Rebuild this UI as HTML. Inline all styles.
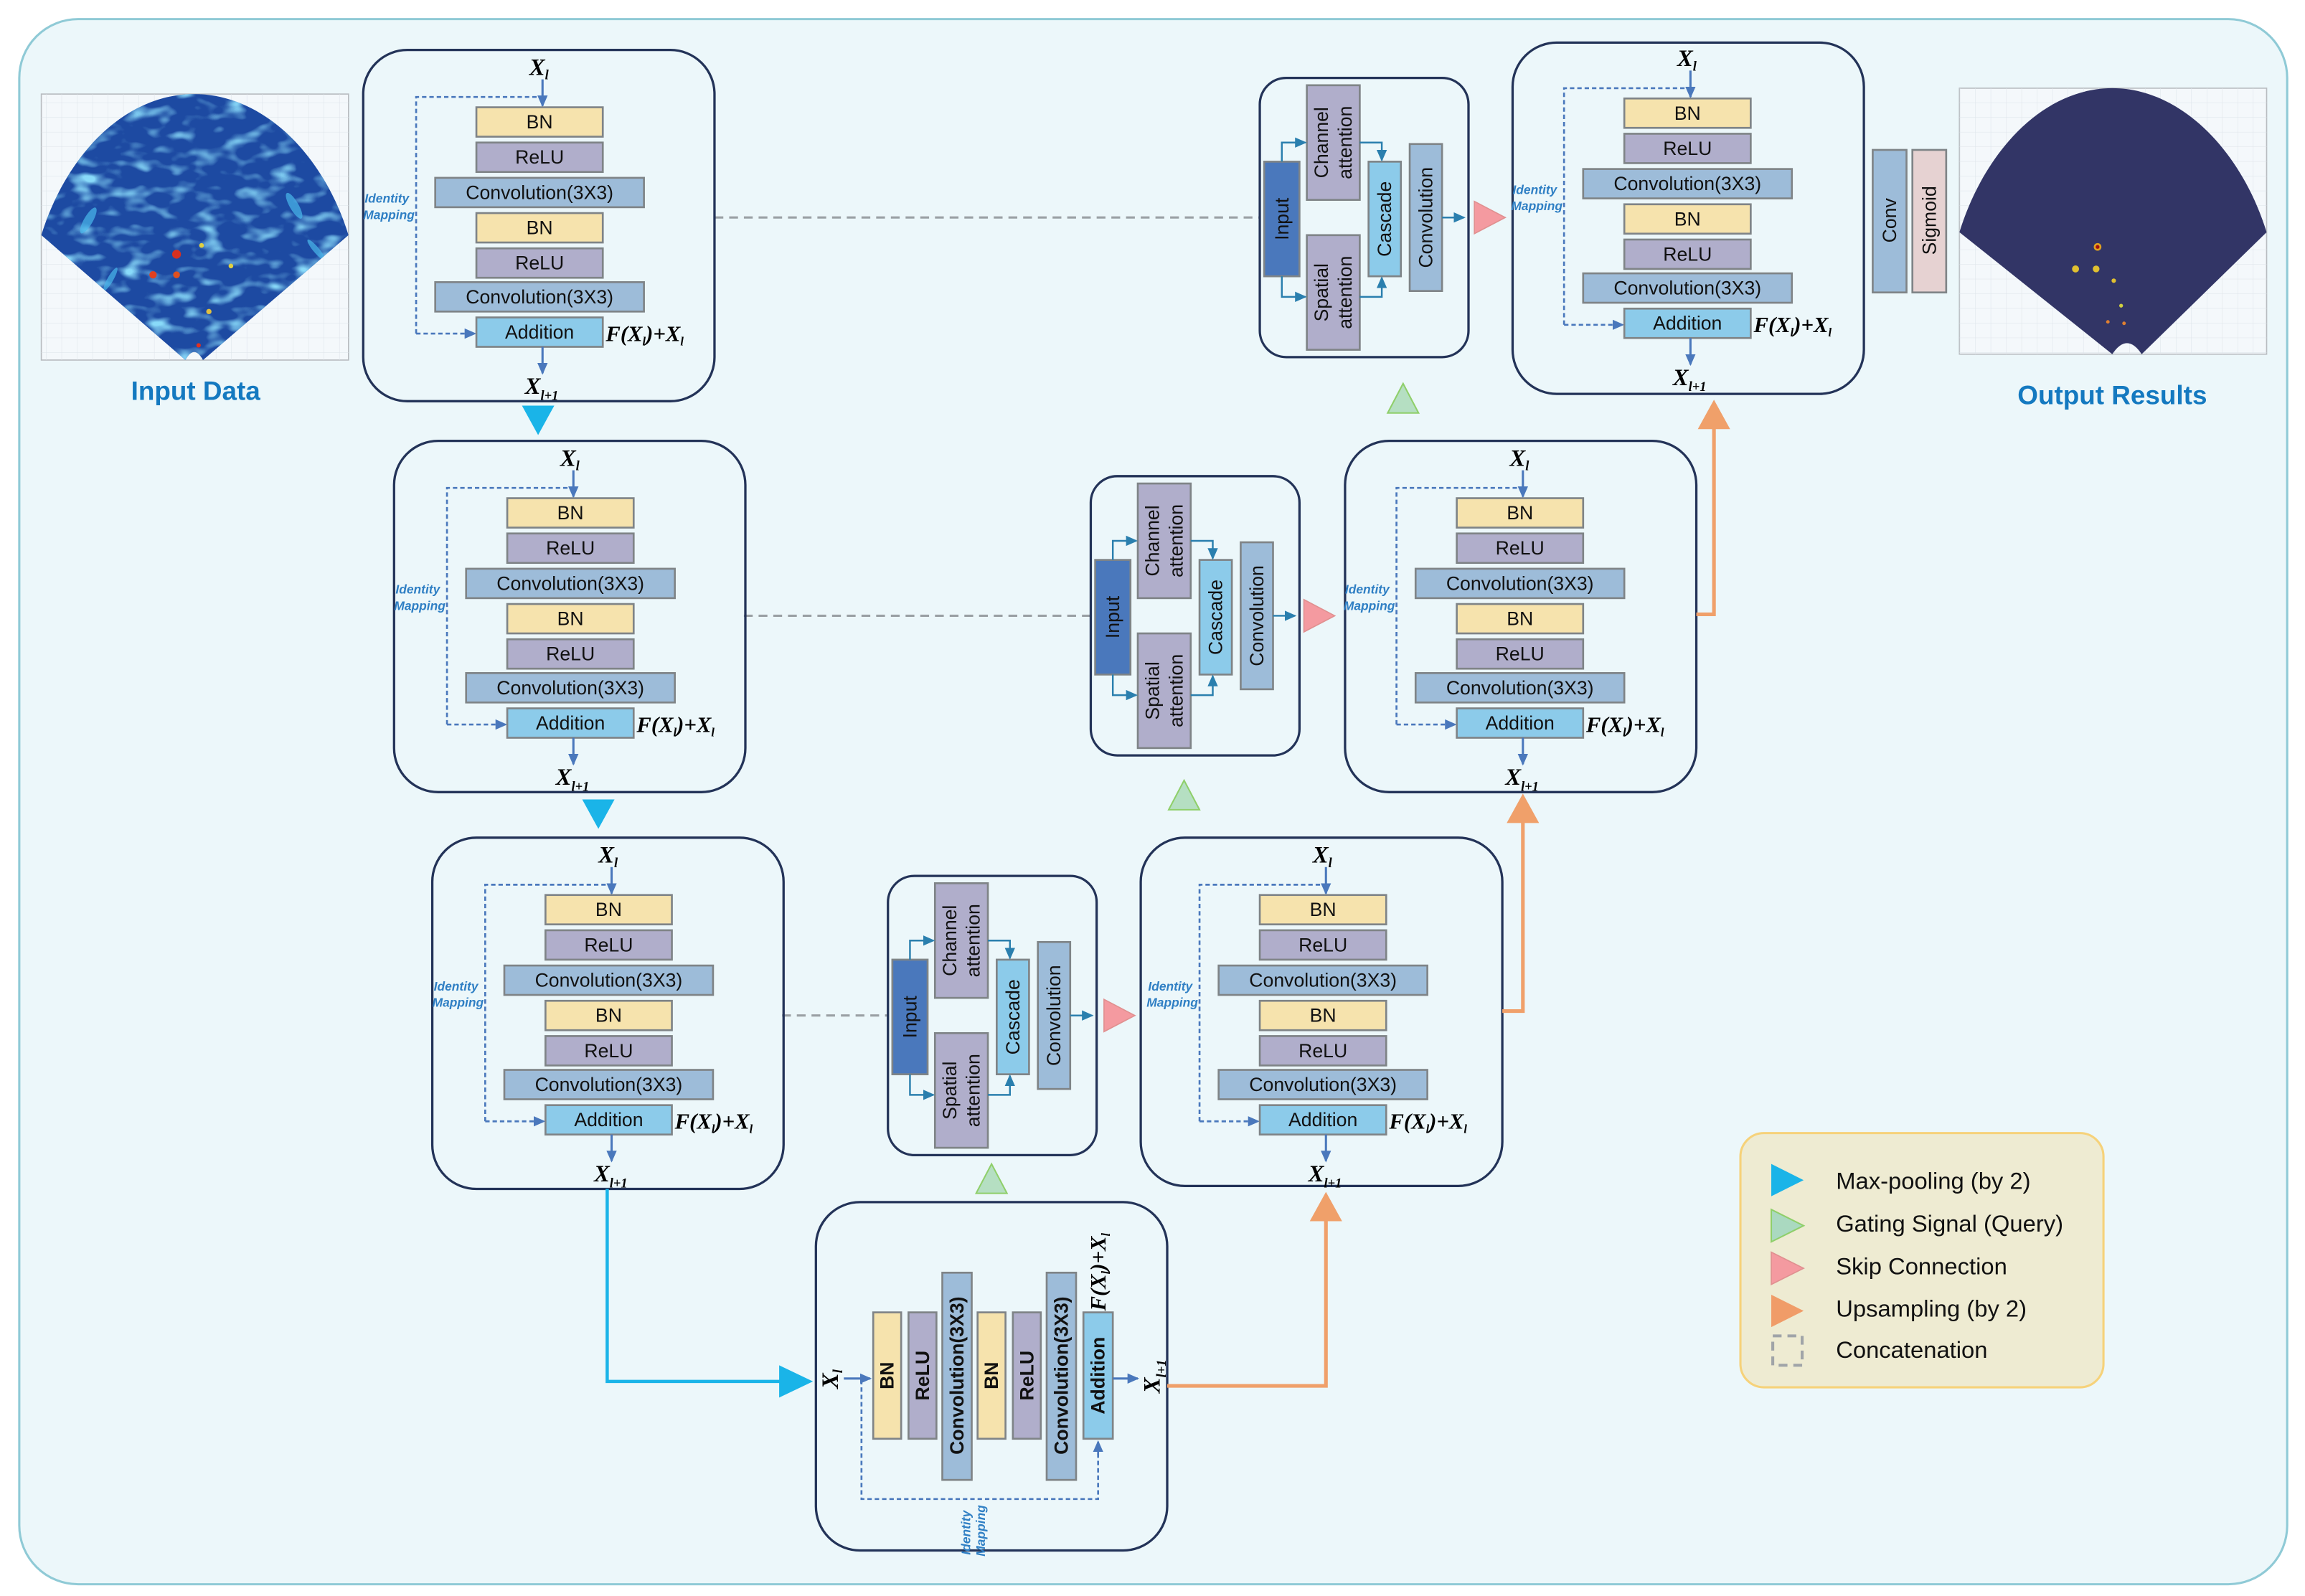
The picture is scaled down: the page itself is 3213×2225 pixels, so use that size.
<!DOCTYPE html>
<html><head><meta charset="utf-8">
<style>
html,body{margin:0;padding:0;background:#fff;}
svg{display:block;}
.l{font-family:"Liberation Sans",sans-serif;font-size:13px;fill:#111;text-anchor:middle;dominant-baseline:central;}
.lb{font-family:"Liberation Sans",sans-serif;font-size:13px;font-weight:bold;fill:#111;text-anchor:middle;dominant-baseline:central;}
.m{font-family:"Liberation Serif",serif;font-style:italic;font-weight:bold;fill:#000;}
.im{font-family:"Liberation Sans",sans-serif;font-style:italic;font-weight:bold;font-size:8.5px;fill:#2f7fc4;}
.bx{stroke:#7f8487;stroke-width:1.3;}
.blk{fill:none;stroke:#233358;stroke-width:1.6;}
</style></head><body>
<svg width="3213" height="2225" viewBox="0 0 1568 1086" xmlns="http://www.w3.org/2000/svg">
<defs>
<marker id="ab" markerUnits="userSpaceOnUse" markerWidth="8" markerHeight="8" refX="7" refY="4" orient="auto"><path d="M0,0.5 L8,4 L0,7.5 Z" fill="#4a78bc"/></marker>
<marker id="at" markerUnits="userSpaceOnUse" markerWidth="8" markerHeight="8" refX="7" refY="4" orient="auto"><path d="M0,0.5 L8,4 L0,7.5 Z" fill="#2a7fae"/></marker>
<clipPath id="fanIn"><path d="M28,160 C45,105 85,64 132,64 S220,105 237,160 L138,245 Q132,234 126,245 Z"/></clipPath>
<pattern id="grid" width="10.5" height="10" patternUnits="userSpaceOnUse"><path d="M10.5,0 V10 H0" fill="none" stroke="#dde3ea" stroke-width="0.5"/></pattern>
<filter id="speck" x="0" y="0" width="1" height="1">
<feTurbulence type="fractalNoise" baseFrequency="0.06 0.11" numOctaves="2" seed="7" result="n"/>
<feColorMatrix in="n" type="matrix" values="0 0 0 0 0.25  0 0 0 0 0.7  0 0 0 0 0.95  3.2 0 0 0 -1.6"/>
</filter>
</defs>
<rect width="1568" height="1086" fill="#ffffff"/>
<rect x="13" y="13" width="1543" height="1065" rx="40" fill="#ecf7fa" stroke="#8fcad6" stroke-width="1.5"/>

<!-- Input image -->
<rect x="28" y="64" width="209" height="181" fill="#f4f8fb" stroke="#b8bcc0" stroke-width="0.8"/>
<rect x="28" y="64" width="209" height="181" fill="url(#grid)"/>
<g clip-path="url(#fanIn)">
<rect x="20" y="50" width="230" height="200" fill="#1d4aa2"/>
<rect x="20" y="50" width="230" height="200" filter="url(#speck)"/>
<g fill="#4ab8ec" opacity="0.7">
<ellipse cx="60" cy="150" rx="3" ry="10" transform="rotate(30 60 150)"/>
<ellipse cx="200" cy="140" rx="3" ry="10" transform="rotate(-30 200 140)"/>
<ellipse cx="75" cy="190" rx="2" ry="9" transform="rotate(30 75 190)"/>
<ellipse cx="215" cy="170" rx="2" ry="9" transform="rotate(-40 215 170)"/>
</g>
<circle cx="120" cy="173" r="3" fill="#d83020"/><circle cx="104" cy="187" r="2.5" fill="#e04020"/><circle cx="120" cy="187" r="2.3" fill="#e05020"/>
<circle cx="142" cy="212" r="1.8" fill="#e0c040"/><circle cx="135" cy="235" r="1.5" fill="#e03020"/>
<circle cx="137" cy="167" r="1.6" fill="#e0d040"/><circle cx="157" cy="181" r="1.6" fill="#e0d040"/>
</g>
<text x="133" y="272" style="font-family:'Liberation Sans',sans-serif;font-weight:bold;font-size:18px;fill:#1479c0;text-anchor:middle;">Input Data</text>

<!-- Output image -->
<rect x="1333" y="60" width="209" height="181" fill="#f4f8fb" stroke="#b8bcc0" stroke-width="0.8"/>
<rect x="1333" y="60" width="209" height="181" fill="url(#grid)"/>
<path d="M1333,158 C1350,103 1390,60 1437,60 S1525,103 1542,158 L1457,241 Q1447,226 1437,241 Z" fill="#323566"/>
<circle cx="1427" cy="168" r="2.6" fill="#e0a020"/><circle cx="1427" cy="168" r="1.3" fill="#a01010"/>
<circle cx="1412" cy="183" r="2.4" fill="#e0c030"/><circle cx="1426" cy="183" r="2.3" fill="#e0c030"/>
<circle cx="1438" cy="191" r="1.5" fill="#e0c030"/><circle cx="1443" cy="208" r="1.3" fill="#d0d040"/>
<circle cx="1434" cy="219" r="1.2" fill="#e08030"/><circle cx="1445" cy="220" r="1.2" fill="#e08030"/>
<text x="1437" y="275" style="font-family:'Liberation Sans',sans-serif;font-weight:bold;font-size:18px;fill:#1479c0;text-anchor:middle;">Output Results</text>

<!-- Conv / Sigmoid -->
<rect class="bx" x="1274" y="102" width="23" height="97" fill="#9dbcd9"/>
<text class="l" transform="rotate(-90 1285.5 150)" x="1285.5" y="150">Conv</text>
<rect class="bx" x="1301" y="102" width="23" height="97" fill="#e6d2d2"/>
<text class="l" transform="rotate(-90 1312.5 150)" x="1312.5" y="150">Sigmoid</text>

<!-- dashed skip lines -->
<g stroke="#9aa0a4" stroke-width="1.5" stroke-dasharray="6,4" fill="none">
<line x1="486" y1="148" x2="857" y2="148"/>
<line x1="506" y1="419" x2="742" y2="419"/>
<line x1="532" y1="691" x2="604" y2="691"/>
</g>

<!-- Residual blocks -->
<g transform="translate(247,34)">
<rect class="blk" x="0" y="0" width="239" height="239" rx="30"/>
<text class="m" x="113" y="17" font-size="16">X<tspan font-size="9" dy="3">l</tspan></text>
<path d="M36,193 V32 H122" fill="none" stroke="#4a78bc" stroke-width="1.3" stroke-dasharray="3,2"/>
<path d="M36,193 H76" fill="none" stroke="#4a78bc" stroke-width="1.3" stroke-dasharray="3,2" marker-end="url(#ab)"/>
<line x1="122" y1="20" x2="122" y2="38" stroke="#4a78bc" stroke-width="1.5" marker-end="url(#ab)"/>
<rect class="bx" x="77" y="39" width="86" height="20" fill="#f6e3ad"/><text class="l" x="120" y="49">BN</text>
<rect class="bx" x="77" y="63" width="86" height="20" fill="#b0aecb"/><text class="l" x="120" y="73">ReLU</text>
<rect class="bx" x="49" y="87" width="142" height="20" fill="#9dbcd9"/><text class="l" x="120" y="97">Convolution(3X3)</text>
<rect class="bx" x="77" y="111" width="86" height="20" fill="#f6e3ad"/><text class="l" x="120" y="121">BN</text>
<rect class="bx" x="77" y="135" width="86" height="20" fill="#b0aecb"/><text class="l" x="120" y="145">ReLU</text>
<rect class="bx" x="49" y="158" width="142" height="20" fill="#9dbcd9"/><text class="l" x="120" y="168">Convolution(3X3)</text>
<rect class="bx" x="77" y="182" width="86" height="20" fill="#8ccbea"/><text class="l" x="120" y="192">Addition</text>
<text class="m" x="165" y="198" font-size="15">F(X<tspan font-size="8" dy="3">l</tspan><tspan dy="-3">)+X</tspan><tspan font-size="8" dy="3">l</tspan></text>
<line x1="122" y1="202" x2="122" y2="220" stroke="#4a78bc" stroke-width="1.5" marker-end="url(#ab)"/>
<text class="m" x="110" y="234" font-size="16">X<tspan font-size="9" dy="4">l+1</tspan></text>
<text class="im" x="1" y="104">Identity</text><text class="im" x="0" y="115">Mapping</text>
</g>
<g transform="translate(268,300)">
<rect class="blk" x="0" y="0" width="239" height="239" rx="30"/>
<text class="m" x="113" y="17" font-size="16">X<tspan font-size="9" dy="3">l</tspan></text>
<path d="M36,193 V32 H122" fill="none" stroke="#4a78bc" stroke-width="1.3" stroke-dasharray="3,2"/>
<path d="M36,193 H76" fill="none" stroke="#4a78bc" stroke-width="1.3" stroke-dasharray="3,2" marker-end="url(#ab)"/>
<line x1="122" y1="20" x2="122" y2="38" stroke="#4a78bc" stroke-width="1.5" marker-end="url(#ab)"/>
<rect class="bx" x="77" y="39" width="86" height="20" fill="#f6e3ad"/><text class="l" x="120" y="49">BN</text>
<rect class="bx" x="77" y="63" width="86" height="20" fill="#b0aecb"/><text class="l" x="120" y="73">ReLU</text>
<rect class="bx" x="49" y="87" width="142" height="20" fill="#9dbcd9"/><text class="l" x="120" y="97">Convolution(3X3)</text>
<rect class="bx" x="77" y="111" width="86" height="20" fill="#f6e3ad"/><text class="l" x="120" y="121">BN</text>
<rect class="bx" x="77" y="135" width="86" height="20" fill="#b0aecb"/><text class="l" x="120" y="145">ReLU</text>
<rect class="bx" x="49" y="158" width="142" height="20" fill="#9dbcd9"/><text class="l" x="120" y="168">Convolution(3X3)</text>
<rect class="bx" x="77" y="182" width="86" height="20" fill="#8ccbea"/><text class="l" x="120" y="192">Addition</text>
<text class="m" x="165" y="198" font-size="15">F(X<tspan font-size="8" dy="3">l</tspan><tspan dy="-3">)+X</tspan><tspan font-size="8" dy="3">l</tspan></text>
<line x1="122" y1="202" x2="122" y2="220" stroke="#4a78bc" stroke-width="1.5" marker-end="url(#ab)"/>
<text class="m" x="110" y="234" font-size="16">X<tspan font-size="9" dy="4">l+1</tspan></text>
<text class="im" x="1" y="104">Identity</text><text class="im" x="0" y="115">Mapping</text>
</g>
<g transform="translate(294,570)">
<rect class="blk" x="0" y="0" width="239" height="239" rx="30"/>
<text class="m" x="113" y="17" font-size="16">X<tspan font-size="9" dy="3">l</tspan></text>
<path d="M36,193 V32 H122" fill="none" stroke="#4a78bc" stroke-width="1.3" stroke-dasharray="3,2"/>
<path d="M36,193 H76" fill="none" stroke="#4a78bc" stroke-width="1.3" stroke-dasharray="3,2" marker-end="url(#ab)"/>
<line x1="122" y1="20" x2="122" y2="38" stroke="#4a78bc" stroke-width="1.5" marker-end="url(#ab)"/>
<rect class="bx" x="77" y="39" width="86" height="20" fill="#f6e3ad"/><text class="l" x="120" y="49">BN</text>
<rect class="bx" x="77" y="63" width="86" height="20" fill="#b0aecb"/><text class="l" x="120" y="73">ReLU</text>
<rect class="bx" x="49" y="87" width="142" height="20" fill="#9dbcd9"/><text class="l" x="120" y="97">Convolution(3X3)</text>
<rect class="bx" x="77" y="111" width="86" height="20" fill="#f6e3ad"/><text class="l" x="120" y="121">BN</text>
<rect class="bx" x="77" y="135" width="86" height="20" fill="#b0aecb"/><text class="l" x="120" y="145">ReLU</text>
<rect class="bx" x="49" y="158" width="142" height="20" fill="#9dbcd9"/><text class="l" x="120" y="168">Convolution(3X3)</text>
<rect class="bx" x="77" y="182" width="86" height="20" fill="#8ccbea"/><text class="l" x="120" y="192">Addition</text>
<text class="m" x="165" y="198" font-size="15">F(X<tspan font-size="8" dy="3">l</tspan><tspan dy="-3">)+X</tspan><tspan font-size="8" dy="3">l</tspan></text>
<line x1="122" y1="202" x2="122" y2="220" stroke="#4a78bc" stroke-width="1.5" marker-end="url(#ab)"/>
<text class="m" x="110" y="234" font-size="16">X<tspan font-size="9" dy="4">l+1</tspan></text>
<text class="im" x="1" y="104">Identity</text><text class="im" x="0" y="115">Mapping</text>
</g>
<g transform="translate(780,570)">
<rect class="blk" x="-4" y="0" width="246" height="237" rx="30"/>
<text class="m" x="113" y="17" font-size="16">X<tspan font-size="9" dy="3">l</tspan></text>
<path d="M36,193 V32 H122" fill="none" stroke="#4a78bc" stroke-width="1.3" stroke-dasharray="3,2"/>
<path d="M36,193 H76" fill="none" stroke="#4a78bc" stroke-width="1.3" stroke-dasharray="3,2" marker-end="url(#ab)"/>
<line x1="122" y1="20" x2="122" y2="38" stroke="#4a78bc" stroke-width="1.5" marker-end="url(#ab)"/>
<rect class="bx" x="77" y="39" width="86" height="20" fill="#f6e3ad"/><text class="l" x="120" y="49">BN</text>
<rect class="bx" x="77" y="63" width="86" height="20" fill="#b0aecb"/><text class="l" x="120" y="73">ReLU</text>
<rect class="bx" x="49" y="87" width="142" height="20" fill="#9dbcd9"/><text class="l" x="120" y="97">Convolution(3X3)</text>
<rect class="bx" x="77" y="111" width="86" height="20" fill="#f6e3ad"/><text class="l" x="120" y="121">BN</text>
<rect class="bx" x="77" y="135" width="86" height="20" fill="#b0aecb"/><text class="l" x="120" y="145">ReLU</text>
<rect class="bx" x="49" y="158" width="142" height="20" fill="#9dbcd9"/><text class="l" x="120" y="168">Convolution(3X3)</text>
<rect class="bx" x="77" y="182" width="86" height="20" fill="#8ccbea"/><text class="l" x="120" y="192">Addition</text>
<text class="m" x="165" y="198" font-size="15">F(X<tspan font-size="8" dy="3">l</tspan><tspan dy="-3">)+X</tspan><tspan font-size="8" dy="3">l</tspan></text>
<line x1="122" y1="202" x2="122" y2="220" stroke="#4a78bc" stroke-width="1.5" marker-end="url(#ab)"/>
<text class="m" x="110" y="234" font-size="16">X<tspan font-size="9" dy="4">l+1</tspan></text>
<text class="im" x="1" y="104">Identity</text><text class="im" x="0" y="115">Mapping</text>
</g>
<g transform="translate(915,300)">
<rect class="blk" x="0" y="0" width="239" height="239" rx="30"/>
<g transform="translate(-1,0)">
<text class="m" x="113" y="17" font-size="16">X<tspan font-size="9" dy="3">l</tspan></text>
<path d="M36,193 V32 H122" fill="none" stroke="#4a78bc" stroke-width="1.3" stroke-dasharray="3,2"/>
<path d="M36,193 H76" fill="none" stroke="#4a78bc" stroke-width="1.3" stroke-dasharray="3,2" marker-end="url(#ab)"/>
<line x1="122" y1="20" x2="122" y2="38" stroke="#4a78bc" stroke-width="1.5" marker-end="url(#ab)"/>
<rect class="bx" x="77" y="39" width="86" height="20" fill="#f6e3ad"/><text class="l" x="120" y="49">BN</text>
<rect class="bx" x="77" y="63" width="86" height="20" fill="#b0aecb"/><text class="l" x="120" y="73">ReLU</text>
<rect class="bx" x="49" y="87" width="142" height="20" fill="#9dbcd9"/><text class="l" x="120" y="97">Convolution(3X3)</text>
<rect class="bx" x="77" y="111" width="86" height="20" fill="#f6e3ad"/><text class="l" x="120" y="121">BN</text>
<rect class="bx" x="77" y="135" width="86" height="20" fill="#b0aecb"/><text class="l" x="120" y="145">ReLU</text>
<rect class="bx" x="49" y="158" width="142" height="20" fill="#9dbcd9"/><text class="l" x="120" y="168">Convolution(3X3)</text>
<rect class="bx" x="77" y="182" width="86" height="20" fill="#8ccbea"/><text class="l" x="120" y="192">Addition</text>
<text class="m" x="165" y="198" font-size="15">F(X<tspan font-size="8" dy="3">l</tspan><tspan dy="-3">)+X</tspan><tspan font-size="8" dy="3">l</tspan></text>
<line x1="122" y1="202" x2="122" y2="220" stroke="#4a78bc" stroke-width="1.5" marker-end="url(#ab)"/>
<text class="m" x="110" y="234" font-size="16">X<tspan font-size="9" dy="4">l+1</tspan></text>
<text class="im" x="1" y="104">Identity</text><text class="im" x="0" y="115">Mapping</text>
</g>
</g>
<g transform="translate(1029,28)">
<rect class="blk" x="0" y="1" width="239" height="239" rx="30"/>
<g transform="translate(-1,0)">
<text class="m" x="113" y="17" font-size="16">X<tspan font-size="9" dy="3">l</tspan></text>
<path d="M36,193 V32 H122" fill="none" stroke="#4a78bc" stroke-width="1.3" stroke-dasharray="3,2"/>
<path d="M36,193 H76" fill="none" stroke="#4a78bc" stroke-width="1.3" stroke-dasharray="3,2" marker-end="url(#ab)"/>
<line x1="122" y1="20" x2="122" y2="38" stroke="#4a78bc" stroke-width="1.5" marker-end="url(#ab)"/>
<rect class="bx" x="77" y="39" width="86" height="20" fill="#f6e3ad"/><text class="l" x="120" y="49">BN</text>
<rect class="bx" x="77" y="63" width="86" height="20" fill="#b0aecb"/><text class="l" x="120" y="73">ReLU</text>
<rect class="bx" x="49" y="87" width="142" height="20" fill="#9dbcd9"/><text class="l" x="120" y="97">Convolution(3X3)</text>
<rect class="bx" x="77" y="111" width="86" height="20" fill="#f6e3ad"/><text class="l" x="120" y="121">BN</text>
<rect class="bx" x="77" y="135" width="86" height="20" fill="#b0aecb"/><text class="l" x="120" y="145">ReLU</text>
<rect class="bx" x="49" y="158" width="142" height="20" fill="#9dbcd9"/><text class="l" x="120" y="168">Convolution(3X3)</text>
<rect class="bx" x="77" y="182" width="86" height="20" fill="#8ccbea"/><text class="l" x="120" y="192">Addition</text>
<text class="m" x="165" y="198" font-size="15">F(X<tspan font-size="8" dy="3">l</tspan><tspan dy="-3">)+X</tspan><tspan font-size="8" dy="3">l</tspan></text>
<line x1="122" y1="202" x2="122" y2="220" stroke="#4a78bc" stroke-width="1.5" marker-end="url(#ab)"/>
<text class="m" x="110" y="234" font-size="16">X<tspan font-size="9" dy="4">l+1</tspan></text>
<text class="im" x="1" y="104">Identity</text><text class="im" x="0" y="115">Mapping</text>
</g>
</g>

<!-- Attention blocks -->
<g transform="translate(857,53)">
<rect class="blk" x="0" y="0" width="142" height="190" rx="18"/>
<rect class="bx" x="3" y="57" width="24" height="78" fill="#4a78bc"/><text class="l" transform="rotate(-90 15 96)" x="15" y="96">Input</text>
<rect class="bx" x="32" y="5" width="36" height="78" fill="#b0aecb"/><text class="l" transform="rotate(-90 50 44)" x="50" y="44"><tspan x="50" dy="-8">Channel</tspan><tspan x="50" dy="16">attention</tspan></text>
<rect class="bx" x="32" y="107" width="36" height="78" fill="#b0aecb"/><text class="l" transform="rotate(-90 50 146)" x="50" y="146"><tspan x="50" dy="-8">Spatial</tspan><tspan x="50" dy="16">attention</tspan></text>
<rect class="bx" x="74" y="57" width="22" height="78" fill="#8ccbea"/><text class="l" transform="rotate(-90 85 96)" x="85" y="96">Cascade</text>
<rect class="bx" x="102" y="45" width="22" height="100" fill="#9dbcd9"/><text class="l" transform="rotate(-90 113 95)" x="113" y="95">Convolution</text>
<g fill="none" stroke="#2a7fae" stroke-width="1.2">
<path d="M15,57 V44 H31" marker-end="url(#at)"/><path d="M15,135 V149 H31" marker-end="url(#at)"/>
<path d="M68,44 H83 V56" marker-end="url(#at)"/><path d="M68,149 H83 V136" marker-end="url(#at)"/>
<path d="M124,95 H139" marker-end="url(#at)"/>
</g>
</g>
<g transform="translate(742,324)">
<rect class="blk" x="0" y="0" width="142" height="190" rx="18"/>
<rect class="bx" x="3" y="57" width="24" height="78" fill="#4a78bc"/><text class="l" transform="rotate(-90 15 96)" x="15" y="96">Input</text>
<rect class="bx" x="32" y="5" width="36" height="78" fill="#b0aecb"/><text class="l" transform="rotate(-90 50 44)" x="50" y="44"><tspan x="50" dy="-8">Channel</tspan><tspan x="50" dy="16">attention</tspan></text>
<rect class="bx" x="32" y="107" width="36" height="78" fill="#b0aecb"/><text class="l" transform="rotate(-90 50 146)" x="50" y="146"><tspan x="50" dy="-8">Spatial</tspan><tspan x="50" dy="16">attention</tspan></text>
<rect class="bx" x="74" y="57" width="22" height="78" fill="#8ccbea"/><text class="l" transform="rotate(-90 85 96)" x="85" y="96">Cascade</text>
<rect class="bx" x="102" y="45" width="22" height="100" fill="#9dbcd9"/><text class="l" transform="rotate(-90 113 95)" x="113" y="95">Convolution</text>
<g fill="none" stroke="#2a7fae" stroke-width="1.2">
<path d="M15,57 V44 H31" marker-end="url(#at)"/><path d="M15,135 V149 H31" marker-end="url(#at)"/>
<path d="M68,44 H83 V56" marker-end="url(#at)"/><path d="M68,149 H83 V136" marker-end="url(#at)"/>
<path d="M124,95 H139" marker-end="url(#at)"/>
</g>
</g>
<g transform="translate(604,596)">
<rect class="blk" x="0" y="0" width="142" height="190" rx="18"/>
<rect class="bx" x="3" y="57" width="24" height="78" fill="#4a78bc"/><text class="l" transform="rotate(-90 15 96)" x="15" y="96">Input</text>
<rect class="bx" x="32" y="5" width="36" height="78" fill="#b0aecb"/><text class="l" transform="rotate(-90 50 44)" x="50" y="44"><tspan x="50" dy="-8">Channel</tspan><tspan x="50" dy="16">attention</tspan></text>
<rect class="bx" x="32" y="107" width="36" height="78" fill="#b0aecb"/><text class="l" transform="rotate(-90 50 146)" x="50" y="146"><tspan x="50" dy="-8">Spatial</tspan><tspan x="50" dy="16">attention</tspan></text>
<rect class="bx" x="74" y="57" width="22" height="78" fill="#8ccbea"/><text class="l" transform="rotate(-90 85 96)" x="85" y="96">Cascade</text>
<rect class="bx" x="102" y="45" width="22" height="100" fill="#9dbcd9"/><text class="l" transform="rotate(-90 113 95)" x="113" y="95">Convolution</text>
<g fill="none" stroke="#2a7fae" stroke-width="1.2">
<path d="M15,57 V44 H31" marker-end="url(#at)"/><path d="M15,135 V149 H31" marker-end="url(#at)"/>
<path d="M68,44 H83 V56" marker-end="url(#at)"/><path d="M68,149 H83 V136" marker-end="url(#at)"/>
<path d="M124,95 H139" marker-end="url(#at)"/>
</g>
</g>

<!-- Bottom block -->
<rect class="blk" x="555" y="818" width="239" height="237" rx="30"/>
<path d="M586,939 V1020 H747 V982" fill="none" stroke="#4a78bc" stroke-width="1.3" stroke-dasharray="3,2"/>
<path d="M747,990 V981" fill="none" stroke="#4a78bc" stroke-width="1.3" marker-end="url(#ab)"/>
<line x1="574" y1="938" x2="592" y2="938" stroke="#4a78bc" stroke-width="1.5" marker-end="url(#ab)"/>
<rect class="bx" x="594" y="893" width="19" height="86" fill="#f6e3ad"/><text class="lb" transform="rotate(-90 603.5 936)" x="603.5" y="936">BN</text>
<rect class="bx" x="618" y="893" width="19" height="86" fill="#b0aecb"/><text class="lb" transform="rotate(-90 627.5 936)" x="627.5" y="936">ReLU</text>
<rect class="bx" x="641" y="866" width="20" height="141" fill="#9dbcd9"/><text class="lb" transform="rotate(-90 651 936)" x="651" y="936">Convolution(3X3)</text>
<rect class="bx" x="665" y="893" width="19" height="86" fill="#f6e3ad"/><text class="lb" transform="rotate(-90 674.5 936)" x="674.5" y="936">BN</text>
<rect class="bx" x="689" y="893" width="19" height="86" fill="#b0aecb"/><text class="lb" transform="rotate(-90 698.5 936)" x="698.5" y="936">ReLU</text>
<rect class="bx" x="712" y="866" width="20" height="141" fill="#9dbcd9"/><text class="lb" transform="rotate(-90 722 936)" x="722" y="936">Convolution(3X3)</text>
<rect class="bx" x="737" y="893" width="20" height="86" fill="#8ccbea"/><text class="lb" transform="rotate(-90 747 936)" x="747" y="936">Addition</text>
<text class="m" transform="rotate(-90 570 945)" x="570" y="945" font-size="16">X<tspan font-size="9" dy="3">l</tspan></text>
<line x1="757" y1="938" x2="774" y2="938" stroke="#4a78bc" stroke-width="1.5" marker-end="url(#ab)"/>
<text class="m" transform="rotate(-90 789 948)" x="789" y="948" font-size="16">X<tspan font-size="9" dy="4">l+1</tspan></text>
<text class="m" transform="rotate(-90 752 892)" x="752" y="892" font-size="15">F(X<tspan font-size="8" dy="3">l</tspan><tspan dy="-3">)+X</tspan><tspan font-size="8" dy="3">l</tspan></text>
<text class="im" transform="rotate(-90 660 1058)" x="660" y="1058">Identity</text>
<text class="im" transform="rotate(-90 670 1059)" x="670" y="1059">Mapping</text>

<!-- Blue max-pool connectors -->
<path d="M355,276 L377,276 L366,296 Z" fill="#1ab4e8"/>
<path d="M396,544 L418,544 L407,564 Z" fill="#1ab4e8"/>
<path d="M413,809 V940 H532" fill="none" stroke="#1ab4e8" stroke-width="2.2"/>
<path d="M530,929 L553,940 L530,951 Z" fill="#1ab4e8"/>

<!-- Orange upsampling -->
<g fill="none" stroke="#f0a06a" stroke-width="2.5">
<path d="M794,943 H902 V830"/>
<path d="M1022,688 H1036 V558"/>
<path d="M1154,418 H1166 V290"/>
</g>
<path d="M891,831 L913,831 L902,811 Z" fill="#f0a06a"/>
<path d="M1025,560 L1047,560 L1036,540 Z" fill="#f0a06a"/>
<path d="M1155,292 L1177,292 L1166,272 Z" fill="#f0a06a"/>

<!-- Green gating -->
<path d="M944,281 L965,281 L954.5,261 Z" fill="#b5dfc2" stroke="#8fcf6a" stroke-width="1"/>
<path d="M795,551 L816,551 L805.5,531 Z" fill="#b5dfc2" stroke="#8fcf6a" stroke-width="1"/>
<path d="M664,812 L685,812 L674.5,792 Z" fill="#b5dfc2" stroke="#8fcf6a" stroke-width="1"/>

<!-- Pink skip -->
<path d="M1003,137 L1024,148 L1003,159 Z" fill="#f49aa0" stroke="#e09090" stroke-width="0.8"/>
<path d="M887,408 L908,419 L887,430 Z" fill="#f49aa0" stroke="#e09090" stroke-width="0.8"/>
<path d="M751,680 L772,691 L751,702 Z" fill="#f49aa0" stroke="#e09090" stroke-width="0.8"/>

<!-- Legend -->
<rect x="1184" y="771" width="247" height="173" rx="16" fill="#eeebd2" stroke="#f6d27a" stroke-width="1.5"/>
<path d="M1205,792 L1227,803 L1205,814 Z" fill="#1ab4e8"/>
<path d="M1205,823 L1227,834 L1205,845 Z" fill="#aad9c0" stroke="#8fcf6a" stroke-width="1"/>
<path d="M1205,852 L1227,863 L1205,874 Z" fill="#f49aa0" stroke="#e09090" stroke-width="0.8"/>
<path d="M1205,881 L1227,892 L1205,903 Z" fill="#f09c68"/>
<rect x="1206" y="909" width="20" height="20" fill="none" stroke="#a0a4a8" stroke-width="2" stroke-dasharray="6,4"/>
<g style="font-family:'Liberation Sans',sans-serif;font-size:16px;fill:#111;">
<text x="1249" y="809">Max-pooling (by 2)</text>
<text x="1249" y="838">Gating Signal (Query)</text>
<text x="1249" y="867">Skip Connection</text>
<text x="1249" y="896">Upsampling (by 2)</text>
<text x="1249" y="924">Concatenation</text>
</g>
</svg>
</body></html>
